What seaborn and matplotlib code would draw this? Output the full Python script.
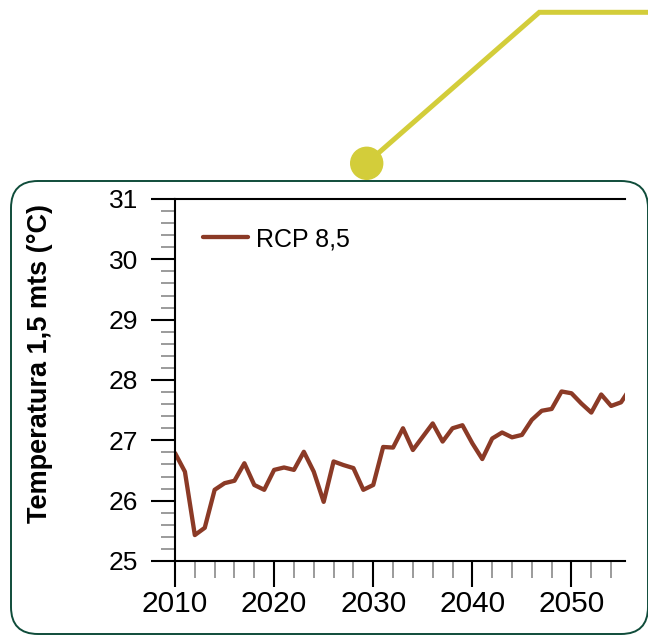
import numpy as np
import pandas as pd
import matplotlib
matplotlib.use("Agg")
import matplotlib.pyplot as plt
import seaborn as sns
from matplotlib.patches import FancyBboxPatch, Circle
from matplotlib.ticker import MultipleLocator

# ---- data ----
years = list(range(2010, 2057))
temps = [26.79, 26.48, 25.43, 25.55, 26.18, 26.29, 26.33, 26.62, 26.26, 26.18,
         26.51, 26.55, 26.51, 26.81, 26.48, 25.98, 26.65, 26.59, 26.54, 26.18,
         26.26, 26.89, 26.88, 27.20, 26.84, 27.06, 27.28, 26.98, 27.20, 27.25,
         26.95, 26.69, 27.03, 27.13, 27.05, 27.09, 27.34, 27.49, 27.52, 27.81,
         27.78, 27.61, 27.46, 27.76, 27.57, 27.63, 27.88]
series_name = "RCP 8,5"
y_label = "Temperatura 1,5 mts (°C)"
y_ticks = [25, 26, 27, 28, 29, 30, 31]
x_ticks = [2010, 2020, 2030, 2040, 2050]

line_color = "#8b3a26"
frame_color = "#0f4c3a"
accent_color = "#d3cd3a"

sns.set_style("ticks")
plt.rcParams["font.family"] = ["Liberation Sans", "DejaVu Sans"]
plt.rcParams["text.color"] = "black"
plt.rcParams["axes.labelcolor"] = "black"
plt.rcParams["xtick.color"] = "black"
plt.rcParams["ytick.color"] = "black"

W, H = 648, 635
fig = plt.figure(figsize=(W / 100, H / 100), dpi=100)

# overlay for decoration (1 unit = 1 pixel)
deco = fig.add_axes([0, 0, 1, 1], zorder=0)
deco.set_xlim(0, W)
deco.set_ylim(H, 0)
deco.axis("off")
deco.patch.set_alpha(0)
frame = FancyBboxPatch((11, 181), 648 - 11, 634 - 181,
                       boxstyle="round,pad=0,rounding_size=27",
                       fc="none", ec=frame_color, lw=1.4)
deco.add_patch(frame)
deco.plot([366.7, 539.3, 660], [163.3, 12.3, 12.3], color=accent_color,
          lw=3.6, solid_capstyle="butt", solid_joinstyle="miter")
deco.add_patch(Circle((366.7, 163.3), 16, color=accent_color))

# main chart
L, R, B, T = 175, 625, 561, 199
ax = fig.add_axes([L / W, 1 - B / H, (R - L) / W, (B - T) / H], zorder=1)
ax.patch.set_alpha(0)

df = pd.DataFrame({"Año": years, "Temp": temps, "Escenario": series_name})
sns.lineplot(data=df, x="Año", y="Temp", hue="Escenario", palette=[line_color],
             lw=3.1, ax=ax)

ax.set_xlim(2010, 2055.4)
ax.set_ylim(25, 31)
ax.set_xticks(x_ticks)
ax.set_yticks(y_ticks)
ax.xaxis.set_minor_locator(MultipleLocator(2))
ax.yaxis.set_minor_locator(MultipleLocator(0.2))

for s in ["left", "bottom", "top"]:
    ax.spines[s].set_color("black")
    ax.spines[s].set_linewidth(1.5)
ax.spines["right"].set_visible(False)

ax.tick_params(axis="y", which="major", direction="out", length=17.3, width=1.5,
               color="black", labelcolor="black", labelsize=19, pad=9,
               left=True, right=False)
ax.tick_params(axis="y", which="minor", direction="out", length=10, width=1.2,
               color="#8a8a8a", left=True, right=False)
ax.tick_params(axis="x", which="major", direction="out", length=19, width=1.5,
               color="black", labelcolor="black", labelsize=21.5, pad=2,
               bottom=True, top=False)
ax.tick_params(axis="x", which="minor", direction="out", length=12, width=1.2,
               color="#8a8a8a", bottom=True, top=False)

ax.set_xlabel("")
ax.set_ylabel(y_label, fontsize=19.5, fontweight="bold", color="black")
ax.yaxis.set_label_coords(-0.271, 0.545)

handles, labels = ax.get_legend_handles_labels()
leg = ax.legend(handles, labels, loc="center left",
                bbox_to_anchor=(0.062, 0.889), frameon=False, fontsize=18,
                handlelength=1.8, handletextpad=0.32, borderpad=0,
                borderaxespad=0, labelcolor="black")

fig.savefig("out.png", dpi=100)
